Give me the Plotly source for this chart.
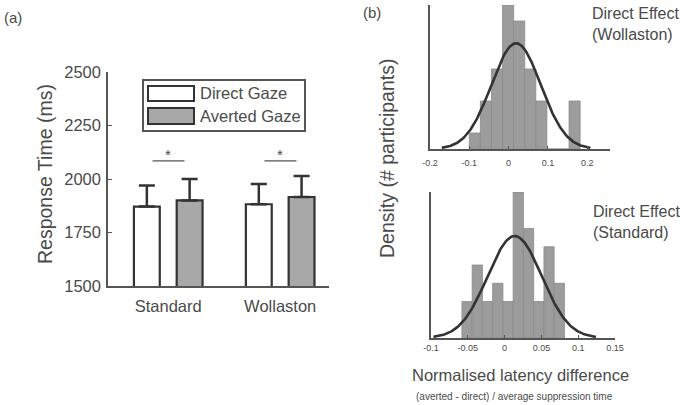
import numpy as np
import plotly.graph_objects as go

# ---------------- data ----------------
conditions = ["Standard", "Wollaston"]
series_names = ["Direct Gaze", "Averted Gaze"]
direct_rt = [1871, 1882]
averted_rt = [1900, 1916]
direct_err = [99, 95]
averted_err = [100, 98]
rt_ticks = [1500, 1750, 2000, 2250, 2500]

# histogram (b) top: Wollaston
woll_bin_start = -0.100
woll_bin_width = 0.0282
woll_counts = [1, 3, 5, 9, 8, 5, 3, 0, 0, 3]
woll_fit_mean = 0.019
woll_fit_sd = 0.063
woll_ticks = [-0.2, -0.1, 0, 0.1, 0.2]
woll_tick_text = ["-0.2", "-0.1", "0", "0.1", "0.2"]

# histogram (b) bottom: Standard
std_bin_start = -0.058
std_bin_width = 0.01393
std_counts = [2, 4, 2, 3, 2, 8, 6, 2, 5, 3]
std_fit_mean = 0.0137
std_fit_sd = 0.0368
std_ticks = [-0.1, -0.05, 0, 0.05, 0.1, 0.15]
std_tick_text = ["-0.1", "-0.05", "0", "0.05", "0.1", "0.15"]

# ---------------- styles ----------------
W, H = 685, 405
FONT = "Liberation Sans, Arial, sans-serif"
TXT = "#4a4a4a"
AX = "#555555"
EDGE = "#333333"
GRAY = "#a8a8a8"
HGRAY = "#9c9c9c"


def px(x):
    return x / W


def py(y):
    return 1 - y / H


fig = go.Figure()

# ---- panel (a) bars ----
bw = 0.231
off = 0.191
fig.add_trace(go.Bar(
    x=conditions, y=direct_rt, name=series_names[0],
    width=bw, offset=-off - bw / 2,
    marker=dict(color="white", line=dict(color=EDGE, width=2.2)),
    error_y=dict(type="data", symmetric=False, array=direct_err,
                 arrayminus=[0] * len(direct_err), color=EDGE,
                 thickness=2.5, width=8),
    xaxis="x", yaxis="y", showlegend=False,
))
fig.add_trace(go.Bar(
    x=conditions, y=averted_rt, name=series_names[1],
    width=bw, offset=off - bw / 2,
    marker=dict(color=GRAY, line=dict(color=EDGE, width=2.2)),
    error_y=dict(type="data", symmetric=False, array=averted_err,
                 arrayminus=[0] * len(averted_err), color=EDGE,
                 thickness=2.5, width=8),
    xaxis="x", yaxis="y", showlegend=False,
))


# ---- panel (b) histograms ----
def add_hist(start, width, counts, mean, sd, xa, ya):
    centers = [start + width * (i + 0.5) for i in range(len(counts))]
    fig.add_trace(go.Bar(
        x=centers, y=counts, width=width,
        marker=dict(color=HGRAY, line=dict(color="#8a8a8a", width=0.8)),
        xaxis=xa, yaxis=ya, showlegend=False,
    ))
    n = sum(counts)
    xs = np.linspace(mean - 3 * sd, mean + 3 * sd, 200)
    ys = n * width * np.exp(-0.5 * ((xs - mean) / sd) ** 2) / (sd * np.sqrt(2 * np.pi))
    fig.add_trace(go.Scatter(
        x=xs, y=ys, mode="lines", line=dict(color="#333333", width=2.6),
        xaxis=xa, yaxis=ya, showlegend=False, hoverinfo="skip",
    ))


add_hist(woll_bin_start, woll_bin_width, woll_counts, woll_fit_mean, woll_fit_sd, "x2", "y2")
add_hist(std_bin_start, std_bin_width, std_counts, std_fit_mean, std_fit_sd, "x3", "y3")

axis_common = dict(showgrid=False, zeroline=False, showline=True, linecolor=AX,
                   linewidth=1.5, mirror=False, automargin=False)

fig.update_layout(
    width=W, height=H,
    margin=dict(l=0, r=0, t=0, b=0, pad=0, autoexpand=False),
    paper_bgcolor="white", plot_bgcolor="white",
    barmode="overlay", showlegend=False,
    font=dict(family=FONT, color=TXT),
    xaxis=dict(domain=[px(108), px(329)], range=[-0.538, 1.436],
               type="category", categoryarray=conditions,
               ticks="", tickfont=dict(size=16.5, color=TXT), ticklabelstandoff=4,
               anchor="y", **axis_common),
    yaxis=dict(domain=[py(286), py(72)], range=[1500, 2500],
               tickvals=rt_ticks, ticks="inside", ticklen=4, tickcolor=AX,
               tickfont=dict(size=16.5, color=TXT), ticklabelstandoff=2,
               anchor="x", **axis_common),
    xaxis2=dict(domain=[px(430), px(610)], range=[-0.2, 0.258],
                tickvals=woll_ticks, ticktext=woll_tick_text,
                ticks="inside", ticklen=3, tickcolor=AX, ticklabelstandoff=4,
                tickfont=dict(size=9, color=TXT), anchor="y2", **axis_common),
    yaxis2=dict(domain=[py(149), py(5)], range=[0, 9], showticklabels=False,
                ticks="", anchor="x2", **axis_common),
    xaxis3=dict(domain=[px(431), px(615)], range=[-0.1, 0.15],
                tickvals=std_ticks, ticktext=std_tick_text,
                ticks="inside", ticklen=3, tickcolor=AX,
                tickfont=dict(size=9, color=TXT), anchor="y3", **axis_common),
    yaxis3=dict(domain=[py(338), py(192)], range=[0, 8], showticklabels=False,
                ticks="", anchor="x3", **axis_common),
)

shapes = []
ann = []

# legend box (panel a)
shapes.append(dict(type="rect", xref="paper", yref="paper",
                   x0=px(143), x1=px(305), y0=py(131), y1=py(80),
                   line=dict(color=AX, width=2), fillcolor="white", layer="above"))
shapes.append(dict(type="rect", xref="paper", yref="paper",
                   x0=px(148), x1=px(194), y0=py(101), y1=py(86),
                   line=dict(color=EDGE, width=2), fillcolor="white", layer="above"))
shapes.append(dict(type="rect", xref="paper", yref="paper",
                   x0=px(148), x1=px(194), y0=py(124), y1=py(108),
                   line=dict(color=EDGE, width=2), fillcolor=GRAY, layer="above"))
for name, yy in zip(series_names, [93.5, 116]):
    ann.append(dict(text=name, xref="paper", yref="paper", x=px(198), y=py(yy),
                    xanchor="left", yanchor="middle", showarrow=False,
                    font=dict(size=16.5, color=TXT)))

# significance lines
for i in range(len(conditions)):
    shapes.append(dict(type="line", xref="x", yref="y",
                       x0=i - 0.14, x1=i + 0.145, y0=2085, y1=2085,
                       line=dict(color=AX, width=1.2)))
    ann.append(dict(text="*", xref="x", yref="y", x=i, y=2085,
                    yanchor="bottom", showarrow=False, yshift=-4,
                    font=dict(size=15, color=TXT)))

# panel labels & titles
ann += [
    dict(text="(a)", xref="paper", yref="paper", x=px(2), y=py(18),
         xanchor="left", yanchor="middle", showarrow=False, font=dict(size=15, color=TXT)),
    dict(text="(b)", xref="paper", yref="paper", x=px(361), y=py(12),
         xanchor="left", yanchor="middle", showarrow=False, font=dict(size=15, color=TXT)),
    dict(text="Response Time (ms)", xref="paper", yref="paper", x=px(45), y=py(174),
         xanchor="center", yanchor="middle", textangle=-90, showarrow=False,
         font=dict(size=19.5, color=TXT)),
    dict(text="Density (# participants)", xref="paper", yref="paper", x=px(387), y=py(158),
         xanchor="center", yanchor="middle", textangle=-90, showarrow=False,
         font=dict(size=19.5, color=TXT)),
    dict(text="Direct Effect<br>(Wollaston)", xref="paper", yref="paper", x=px(590), y=py(3),
         xanchor="left", yanchor="top", align="left", showarrow=False,
         font=dict(size=16, color=TXT)),
    dict(text="Direct Effect<br>(Standard)", xref="paper", yref="paper", x=px(591), y=py(201),
         xanchor="left", yanchor="top", align="left", showarrow=False,
         font=dict(size=16, color=TXT)),
    dict(text="Normalised latency difference", xref="paper", yref="paper", x=px(520.5), y=py(375),
         xanchor="center", yanchor="middle", showarrow=False, font=dict(size=16.5, color=TXT)),
    dict(text="(averted - direct) / average suppression time", xref="paper", yref="paper",
         x=px(514), y=py(396), xanchor="center", yanchor="middle", showarrow=False,
         font=dict(size=10, color=TXT)),
]

fig.update_layout(shapes=shapes, annotations=ann)
fig.write_html(
    "out.html",
    config={"displayModeBar": False},
    post_script="document.body.style.margin='0';document.body.style.padding='0';",
)
